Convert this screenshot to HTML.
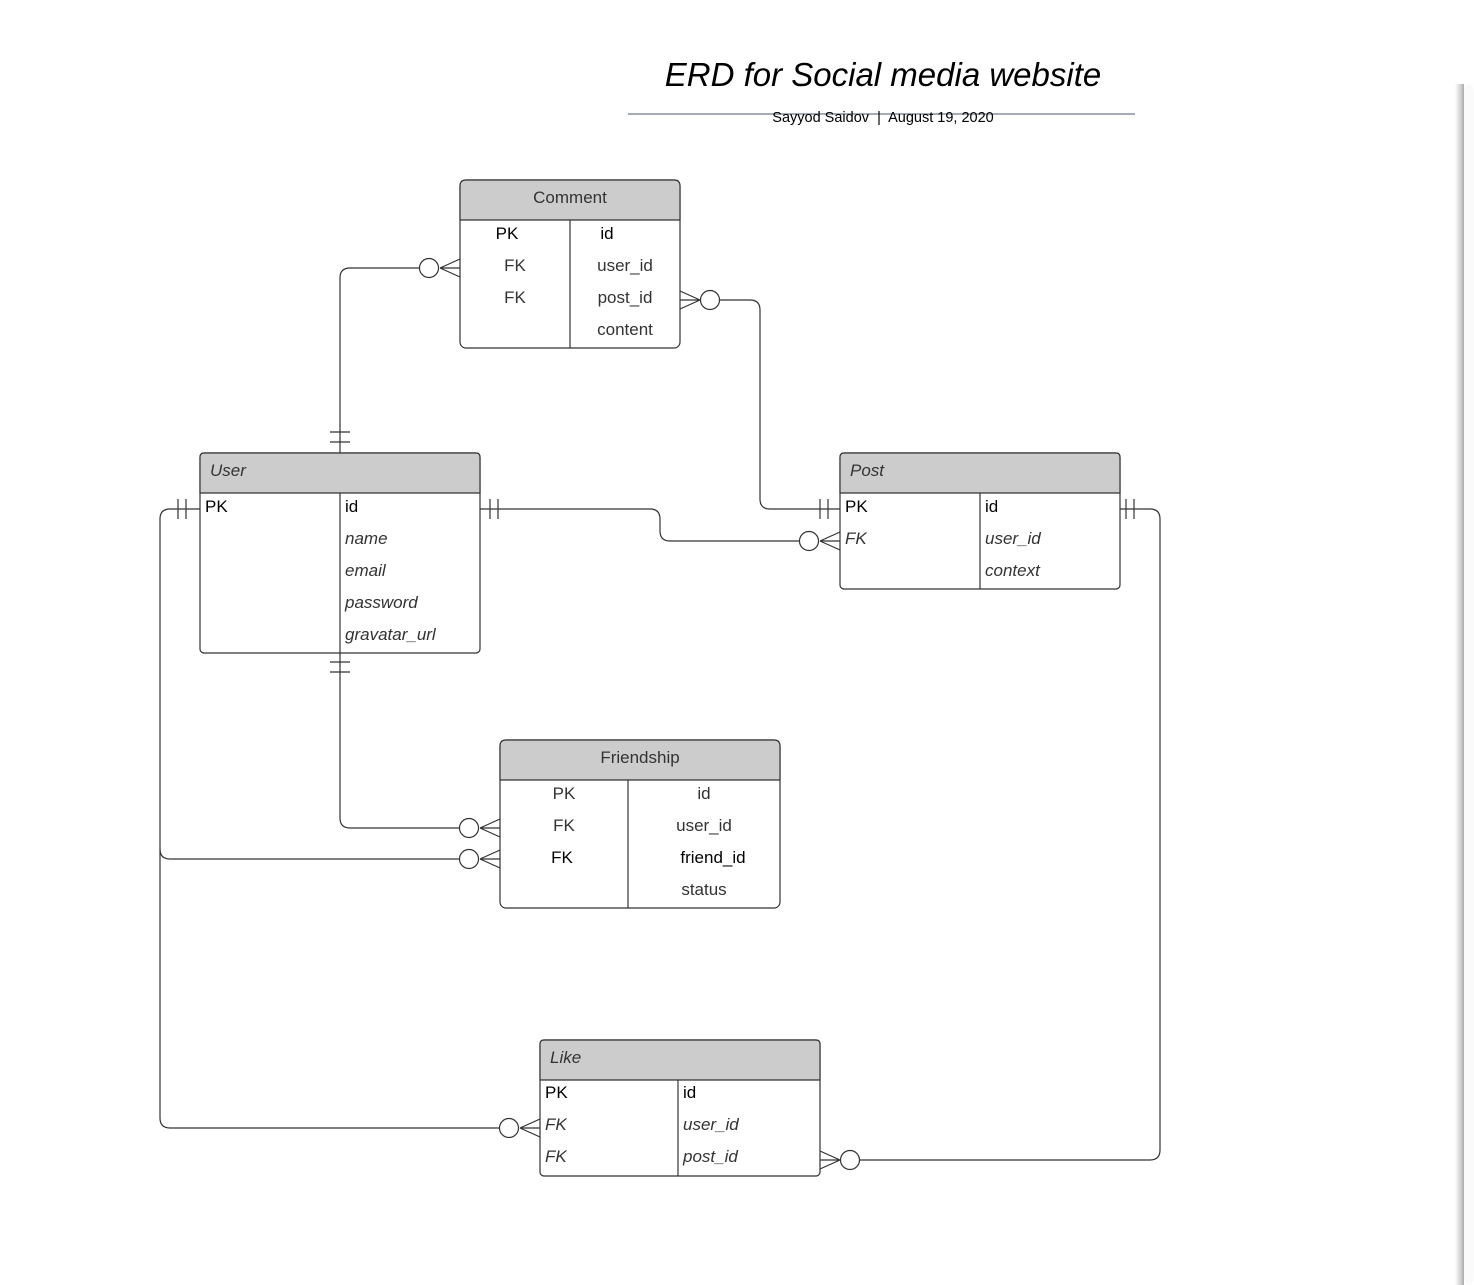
<!DOCTYPE html>
<html><head><meta charset="utf-8"><style>
html,body{margin:0;padding:0;background:#fff;}
svg{display:block;font-family:"Liberation Sans",sans-serif;}
</style></head><body>
<svg width="1474" height="1285" viewBox="0 0 1474 1285" xmlns="http://www.w3.org/2000/svg">
<defs>
<linearGradient id="sh" x1="0" x2="1" y1="0" y2="0">
<stop offset="0" stop-color="#fff"/><stop offset="0.7" stop-color="#ccc"/><stop offset="1" stop-color="#aaa"/>
</linearGradient>
</defs>
<rect x="1455" y="84" width="9" height="1201" fill="url(#sh)"/>
<rect x="1464" y="84" width="10" height="1201" rx="8" fill="#fafafa"/>

<text x="883" y="86" font-size="33" font-style="italic" text-anchor="middle" fill="#000">ERD for Social media website</text>
<line x1="628" y1="114" x2="1135" y2="114" stroke="#8a8fa0" stroke-width="1.5"/>
<text x="883" y="122" font-size="14.5" text-anchor="middle" fill="#000" xml:space="preserve">Sayyod Saidov  |  August 19, 2020</text>

<g fill="none" stroke="#333" stroke-width="1.2">
<path d="M420 268 H350 Q340 268 340 278 V453"/>
<line x1="330" y1="432" x2="350" y2="432"/><line x1="330" y1="442" x2="350" y2="442"/>
<path d="M719 300 H750 Q760 300 760 310 V499 Q760 509 770 509 H840"/>
<line x1="820" y1="499" x2="820" y2="519"/><line x1="828" y1="499" x2="828" y2="519"/>
<path d="M480 509 H650 Q660 509 660 519 V531 Q660 541 670 541 H800"/>
<line x1="490" y1="499" x2="490" y2="519"/><line x1="498" y1="499" x2="498" y2="519"/>
<path d="M340 653 V818 Q340 828 350 828 H460"/>
<line x1="330" y1="662" x2="350" y2="662"/><line x1="330" y1="672" x2="350" y2="672"/>
<path d="M200 509 H170 Q160 509 160 519 V1118 Q160 1128 170 1128 H500"/>
<path d="M160 849 Q160 859 170 859 H460"/>
<line x1="178" y1="499" x2="178" y2="519"/><line x1="186" y1="499" x2="186" y2="519"/>
<path d="M1120 509 H1150 Q1160 509 1160 519 V1150 Q1160 1160 1150 1160 H859"/>
<line x1="1126" y1="499" x2="1126" y2="519"/><line x1="1134" y1="499" x2="1134" y2="519"/>
<path d="M440 268 L460 259 M440 268 L460 268 M440 268 L460 277"/>
<path d="M700 300 L680 291 M700 300 L680 300 M700 300 L680 309"/>
<path d="M820 541 L840 532 M820 541 L840 541 M820 541 L840 550"/>
<path d="M480 828 L500 819 M480 828 L500 828 M480 828 L500 837"/>
<path d="M480 859 L500 850 M480 859 L500 859 M480 859 L500 868"/>
<path d="M520 1128 L540 1119 M520 1128 L540 1128 M520 1128 L540 1137"/>
<path d="M840 1160 L820 1151 M840 1160 L820 1160 M840 1160 L820 1169"/>
</g>
<g fill="#fff" stroke="#333" stroke-width="1.2">
<circle cx="429" cy="268" r="9.5"/><circle cx="710" cy="300" r="9.5"/>
<circle cx="809" cy="541" r="9.5"/><circle cx="469" cy="828" r="9.5"/>
<circle cx="469" cy="859" r="9.5"/><circle cx="509" cy="1128" r="9.5"/>
<circle cx="850" cy="1160" r="9.5"/>
</g>

<g font-size="17" fill="#333">
<rect x="460" y="180" width="220" height="168" rx="6" fill="#fff" stroke="#333" stroke-width="1.2"/>
<path d="M460 220 V186 Q460 180 466 180 H674 Q680 180 680 186 V220 Z" fill="#ccc" stroke="#333" stroke-width="1.2"/>
<line x1="570" y1="220" x2="570" y2="348" stroke="#333" stroke-width="1.2"/>
<text x="570" y="203" text-anchor="middle">Comment</text>
<text x="507" y="239" text-anchor="middle" fill="#000">PK</text>
<text x="515" y="271" text-anchor="middle">FK</text>
<text x="515" y="303" text-anchor="middle">FK</text>
<text x="607" y="239" text-anchor="middle" fill="#000">id</text>
<text x="625" y="271" text-anchor="middle">user_id</text>
<text x="625" y="303" text-anchor="middle">post_id</text>
<text x="625" y="335" text-anchor="middle">content</text>
</g>

<g font-size="17" fill="#333">
<rect x="200" y="453" width="280" height="200" rx="4" fill="#fff" stroke="#333" stroke-width="1.2"/>
<path d="M200 493 V457 Q200 453 204 453 H476 Q480 453 480 457 V493 Z" fill="#ccc" stroke="#333" stroke-width="1.2"/>
<line x1="340" y1="493" x2="340" y2="653" stroke="#333" stroke-width="1.2"/>
<text x="210" y="476" font-style="italic">User</text>
<text x="205" y="512" fill="#000">PK</text>
<text x="345" y="512" fill="#000">id</text>
<g font-style="italic">
<text x="345" y="544">name</text><text x="345" y="576">email</text>
<text x="345" y="608">password</text><text x="345" y="640">gravatar_url</text>
</g>
</g>

<g font-size="17" fill="#333">
<rect x="840" y="453" width="280" height="136" rx="4" fill="#fff" stroke="#333" stroke-width="1.2"/>
<path d="M840 493 V457 Q840 453 844 453 H1116 Q1120 453 1120 457 V493 Z" fill="#ccc" stroke="#333" stroke-width="1.2"/>
<line x1="980" y1="493" x2="980" y2="589" stroke="#333" stroke-width="1.2"/>
<text x="850" y="476" font-style="italic">Post</text>
<text x="845" y="512" fill="#000">PK</text>
<text x="985" y="512" fill="#000">id</text>
<g font-style="italic">
<text x="845" y="544">FK</text>
<text x="985" y="544">user_id</text><text x="985" y="576">context</text>
</g>
</g>

<g font-size="17" fill="#333">
<rect x="500" y="740" width="280" height="168" rx="6" fill="#fff" stroke="#333" stroke-width="1.2"/>
<path d="M500 780 V746 Q500 740 506 740 H774 Q780 740 780 746 V780 Z" fill="#ccc" stroke="#333" stroke-width="1.2"/>
<line x1="628" y1="780" x2="628" y2="908" stroke="#333" stroke-width="1.2"/>
<text x="640" y="763" text-anchor="middle">Friendship</text>
<text x="564" y="799" text-anchor="middle">PK</text>
<text x="564" y="831" text-anchor="middle">FK</text>
<text x="562" y="863" text-anchor="middle" fill="#000">FK</text>
<text x="704" y="799" text-anchor="middle">id</text>
<text x="704" y="831" text-anchor="middle">user_id</text>
<text x="713" y="863" text-anchor="middle" fill="#000">friend_id</text>
<text x="704" y="895" text-anchor="middle">status</text>
</g>

<g font-size="17" fill="#333">
<rect x="540" y="1040" width="280" height="136" rx="4" fill="#fff" stroke="#333" stroke-width="1.2"/>
<path d="M540 1080 V1044 Q540 1040 544 1040 H816 Q820 1040 820 1044 V1080 Z" fill="#ccc" stroke="#333" stroke-width="1.2"/>
<line x1="678" y1="1080" x2="678" y2="1176" stroke="#333" stroke-width="1.2"/>
<text x="550" y="1063" font-style="italic">Like</text>
<text x="545" y="1098" fill="#000">PK</text>
<text x="683" y="1098" fill="#000">id</text>
<g font-style="italic">
<text x="545" y="1130">FK</text><text x="545" y="1162">FK</text>
<text x="683" y="1130">user_id</text><text x="683" y="1162">post_id</text>
</g>
</g>
</svg>
</body></html>
